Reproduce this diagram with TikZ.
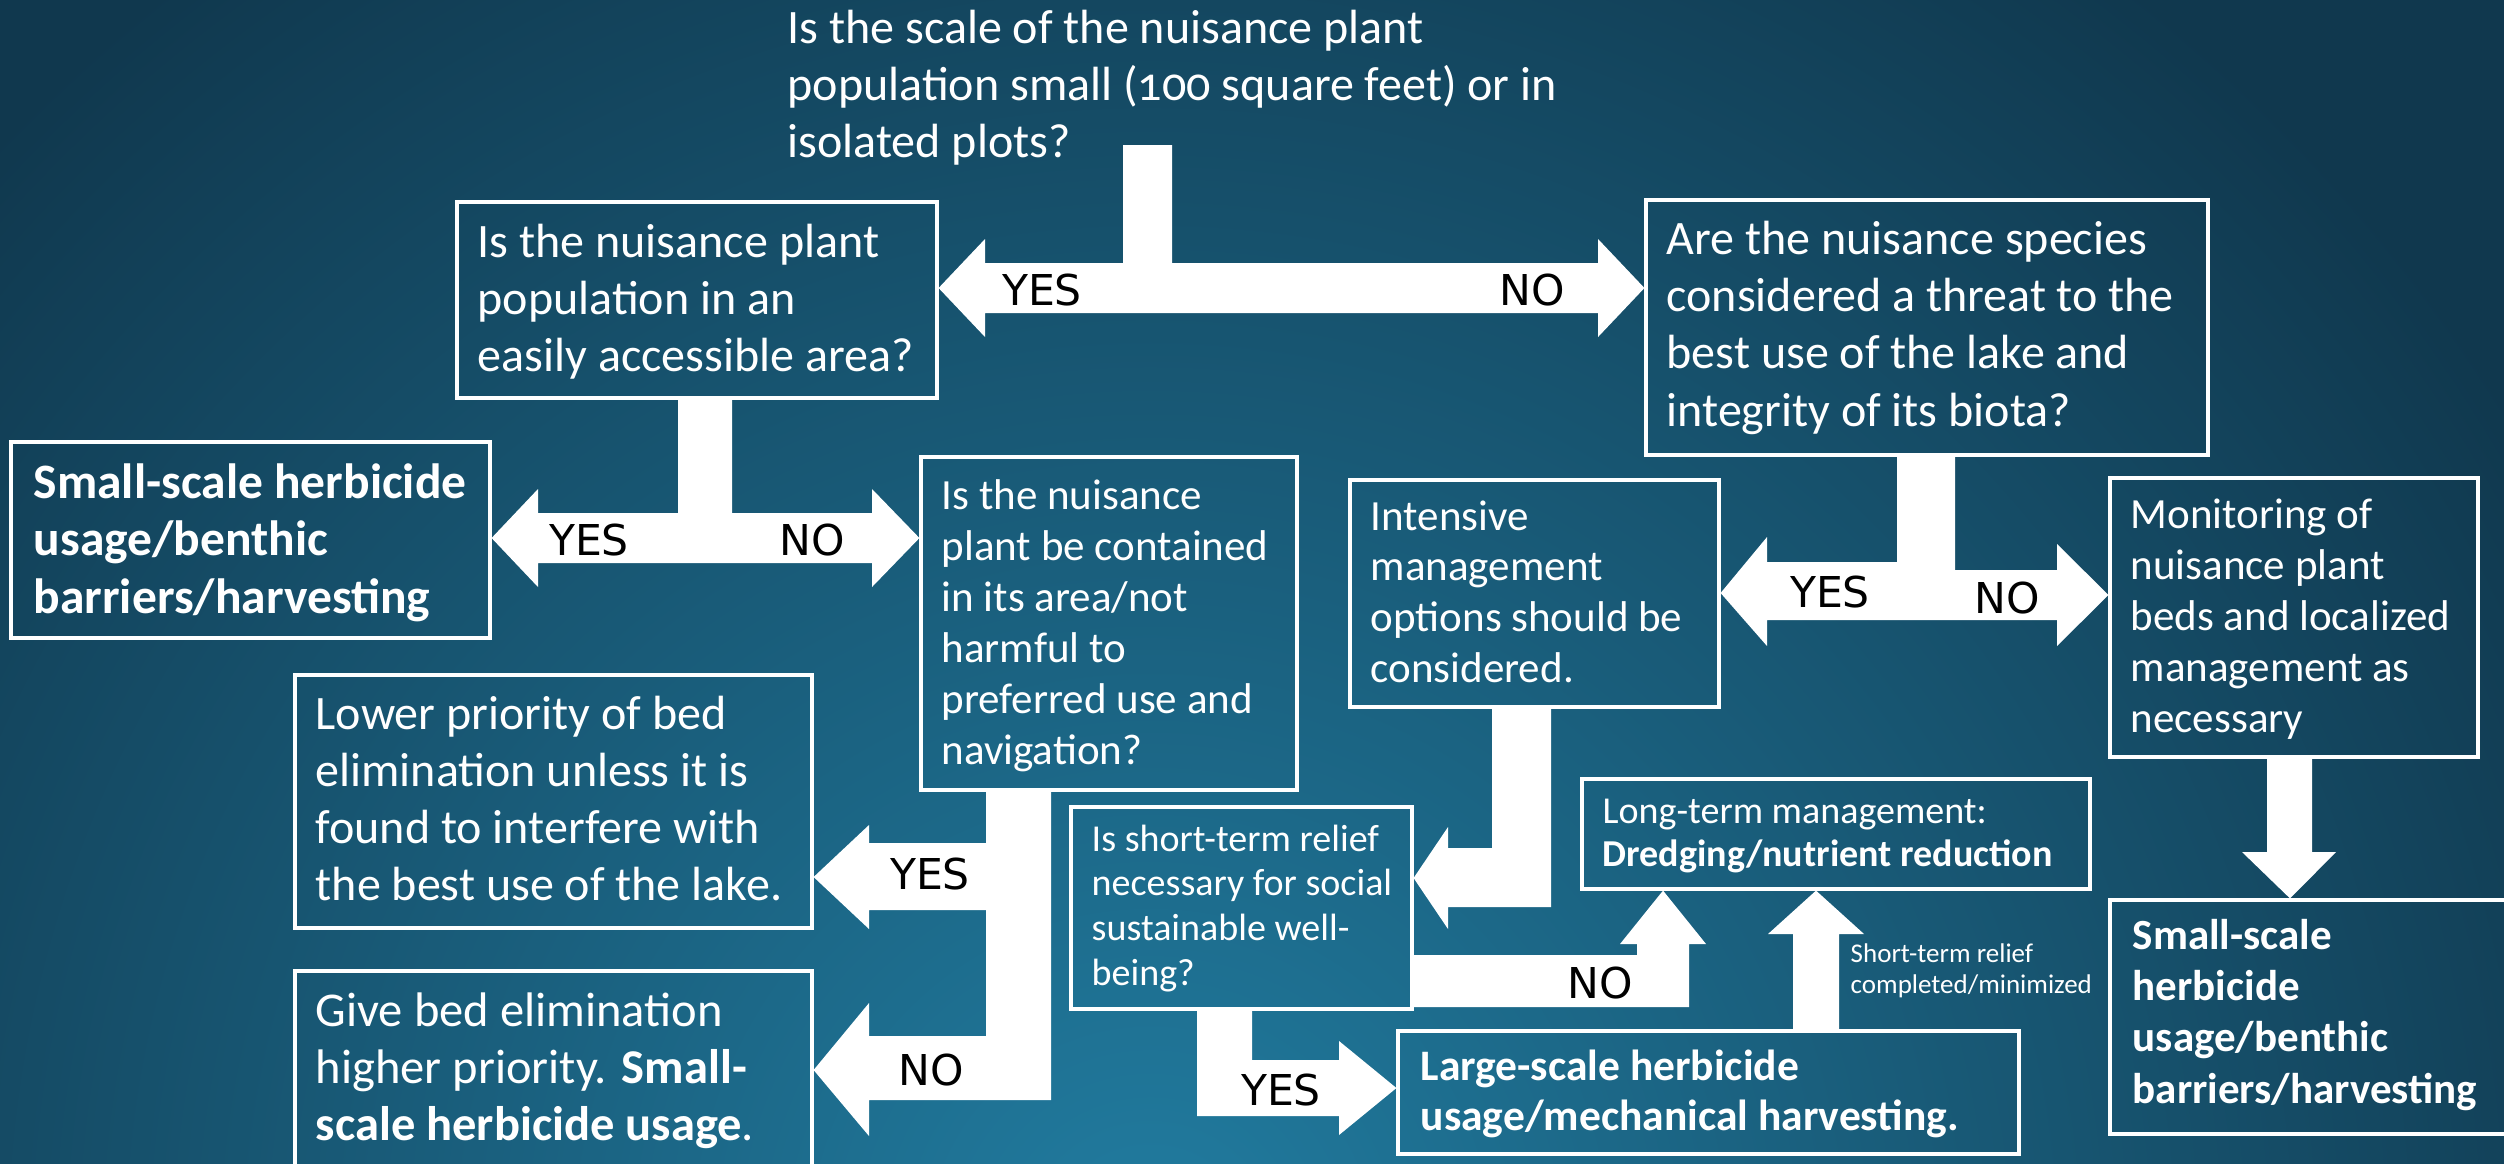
\documentclass[tikz,border=0pt]{standalone}
\usepackage{fontspec}
\setmainfont{Carlito}
\newfontfamily\labfont{DejaVu Sans}
\usetikzlibrary{fit}
\newcommand\pxf[2]{\pgfmathsetmacro\pxa{#1*0.28453}\pgfmathsetmacro\pxb{#2*0.28453}\fontsize{\pxa pt}{\pxb pt}\selectfont}
\newcommand\ml[1]{\begin{tabular}[t]{@{}l@{}}#1\end{tabular}}
\definecolor{bgdark}{RGB}{16,56,78}
\definecolor{bglight}{RGB}{33,124,160}
\begin{document}
\begin{tikzpicture}[x=0.01cm,y=-0.01cm,
  box/.style={draw=white, line width=0.9pt, inner sep=0pt},
  txt/.style={text=white, anchor=base west, inner sep=0pt},
  lab/.style={text=black, anchor=base, inner sep=0pt, font=\labfont\pxf{42.5}{50}},
  blk/.style={fill=white, draw=none}]
\useasboundingbox (0,0) rectangle (2504,1163);
\fill[bgdark] (0,0) rectangle (2504,1163);
\begin{scope}
\clip (0,0) rectangle (2504,1163);
\shade[inner color=bglight, outer color=bgdark] (1150,1250) circle [radius=16cm];
\end{scope}

% boxes
\node[box, fit={(457,202) (937,398)}] (A) {};
\node[box, fit={(1646,200) (2208,455)}] (B) {};
\node[box, fit={(11,442) (490,638)}] (C) {};
\node[box, fit={(921,457) (1297,790)}] (D) {};
\node[box, fit={(1350,480) (1719,707)}] (E) {};
\node[box, fit={(2110,478) (2478,757)}] (F) {};
\node[box, fit={(295,675) (812,928)}] (G) {};
\node[box, fit={(295,971) (812,1175)}] (H) {};
\node[box, fit={(1071,807) (1412,1009)}] (I) {};
\node[box, fit={(1582,779) (2090,889)}] (J) {};
\node[box, fit={(1398,1031) (2019,1154)}] (K) {};
\node[box, fit={(2110,900) (2520,1134)}] (L) {};

% texts
\node[txt, font=\pxf{48}{57}\addfontfeatures{Numbers=OldStyle}] (T0t) at (787,43) {\ml{Is the scale of the nuisance plant\\population small (100 square feet) or in\\isolated plots?}};
\node[txt, font=\pxf{48}{57}] (At) at (477,257) {\ml{Is the nuisance plant\\population in an\\easily accessible area?}};
\node[txt, font=\pxf{48}{57.4}] (Bt) at (1666,254) {\ml{Are the nuisance species\\considered a threat to the\\best use of the lake and\\integrity of its biota?}};
\node[txt, font=\bfseries\pxf{49.5}{57.5}] (Ct) at (33,498) {\ml{Small-scale herbicide\\usage/benthic\\barriers/harvesting}};
\node[txt, font=\pxf{43}{51}] (Dt) at (941,509) {\ml{Is the nuisance\\plant be contained\\in its area/not\\harmful to\\preferred use and\\navigation?}};
\node[txt, font=\pxf{43}{50.7}] (Et) at (1370,530) {\ml{Intensive\\management\\options should be\\considered.}};
\node[txt, font=\pxf{43}{51}] (Ft) at (2130,528) {\ml{Monitoring of\\nuisance plant\\beds and localized\\management as\\necessary}};
\node[txt, font=\pxf{48}{57}] (Gt) at (315,729) {\ml{Lower priority of bed\\elimination unless it is\\found to interfere with\\the best use of the lake.}};
\node[txt, font=\pxf{48.5}{57}] (Ht) at (315,1026) {\ml{Give bed elimination\\higher priority. \textbf{Small-}\\\textbf{scale herbicide usage}.}};
\node[txt, font=\pxf{38}{44.7}] (It) at (1091,851) {\ml{Is short-term relief\\necessary for social\\sustainable well-\\being?}};
\node[txt, font=\pxf{38}{43}] (Jt) at (1602,823) {\ml{Long-term management:\\\textbf{Dredging/nutrient reduction}}};
\node[txt, font=\bfseries\pxf{43.5}{50}] (Kt) at (1420,1080) {\ml{Large-scale herbicide\\usage/mechanical harvesting.}};
\node[txt, font=\bfseries\pxf{43}{51.3}] (Lt) at (2132,949) {\ml{Small-scale\\herbicide\\usage/benthic\\barriers/harvesting}};
\node[txt, font=\pxf{27}{31}] (St) at (1850,962) {\ml{Short-term relief\\completed/minimized}};

% block arrows
\fill[blk] (1123,145) -- (1172,145) -- (1172,263) -- (1598,263) -- (1598,239) -- (B.west |- 0,288) -- (1598,337) -- (1598,313) -- (985,313) -- (985,337) -- (A.east |- 0,288) -- (985,239) -- (985,263) -- (1123,263) -- cycle;
\fill[blk] (678,398) -- (732,398) -- (732,513) -- (872,513) -- (872,489) -- (D.west |- 0,538) -- (872,587) -- (872,563) -- (538,563) -- (538,587) -- (C.east |- 0,538) -- (538,489) -- (538,513) -- (678,513) -- cycle;
\fill[blk] (1897,453) -- (1955,453) -- (1955,570) -- (2057,570) -- (2057,544) -- (F.west |- 0,595) -- (2057,646) -- (2057,620) -- (1767,620) -- (1767,646) -- (E.east |- 0,593) -- (1767,537) -- (1767,562) -- (1897,562) -- cycle;
\fill[blk] (2267,757) -- (2312,757) -- (2312,852) -- (2336,852) -- (L.north -| 2290,0) -- (2242,852) -- (2267,852) -- cycle;
\fill[blk] (986,790) -- (1051,790) -- (1051,1100) -- (869,1100) -- (869,1136) -- (H.east |- 0,1070) -- (869,1003) -- (869,1036) -- (986,1036) -- (986,910) -- (869,910) -- (869,929) -- (G.east |- 0,877) -- (869,825) -- (869,843) -- (986,843) -- cycle;
\fill[blk] (1492,707) -- (1551,707) -- (1551,907) -- (1448,907) -- (1448,929) -- (I.east |- 0,878) -- (1448,827) -- (1448,848) -- (1492,848) -- cycle;
\fill[blk] (1412,955) -- (1637,955) -- (1637,944) -- (1620,944) -- (J.south -| 1663,0) -- (1706,944) -- (1689,944) -- (1689,1007) -- (1412,1007) -- cycle;
\fill[blk] (1197,1009) -- (1252,1009) -- (1252,1060) -- (1339,1060) -- (1339,1041) -- (K.west |- 0,1088) -- (1339,1135) -- (1339,1116) -- (1197,1116) -- cycle;
\fill[blk] (1793,1031) -- (1839,1031) -- (1839,934) -- (1864,934) -- (J.south -| 1816,0) -- (1768,934) -- (1793,934) -- cycle;

% labels
\node[lab] (y1) at (1042,305) {YES};
\node[lab] (n1) at (1532,305) {NO};
\node[lab] (y2) at (589,555) {YES};
\node[lab] (n2) at (812,555) {NO};
\node[lab] (y3) at (1830,607) {YES};
\node[lab] (n3) at (2007,613) {NO};
\node[lab] (y5) at (930,889) {YES};
\node[lab] (n5) at (931,1085) {NO};
\node[lab] (n7) at (1600,998) {NO};
\node[lab] (y8) at (1281,1105) {YES};
\end{tikzpicture}
\end{document}
